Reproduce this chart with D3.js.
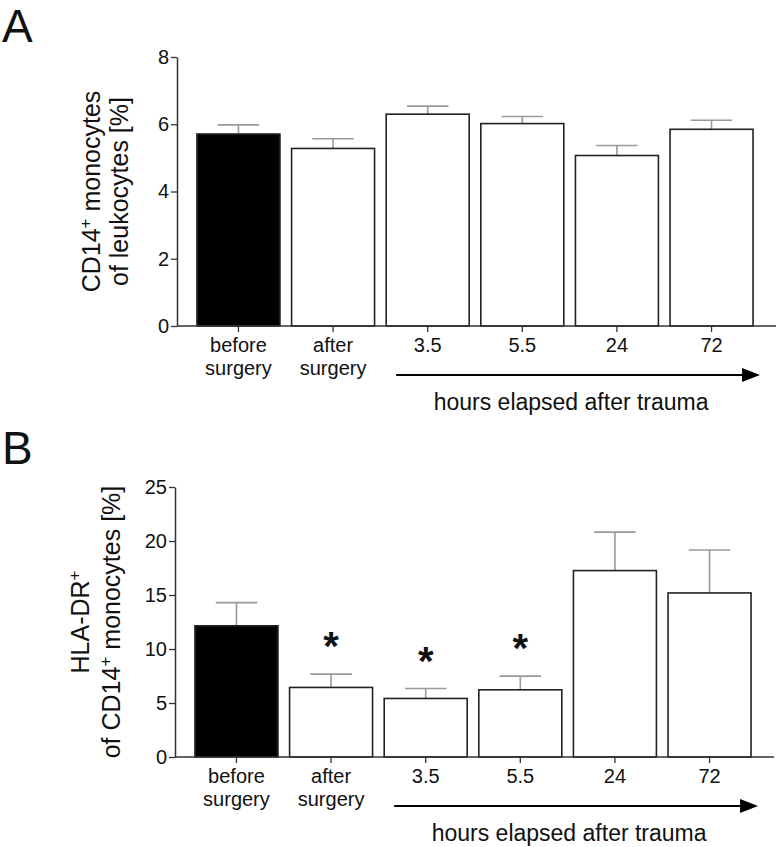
<!DOCTYPE html>
<html>
<head>
<meta charset="utf-8">
<script src="https://cdn.jsdelivr.net/npm/d3@7"></script>
<style>
  body { margin: 0; background: #fff; }
  text { font-family: "Liberation Sans", Arial, Helvetica, sans-serif; fill: #111; }
</style>
</head>
<body>
<div id="wrapper"></div>
<script>
// categories shared by both panels
const categories = ["before surgery", "after surgery", "3.5", "5.5", "24", "72"]
const categoryLines = [["before", "surgery"], ["after", "surgery"], ["3.5"], ["5.5"], ["24"], ["72"]]

// panel A: CD14+ monocytes of leukocytes
const cd14Mean = [5.71, 5.28, 6.30, 6.02, 5.07, 5.85]
const cd14Sem = [0.27, 0.29, 0.24, 0.21, 0.30, 0.27]
const cd14Ticks = [0, 2, 4, 6, 8]

// panel B: HLA-DR+ of CD14+ monocytes
const hlaMean = [12.15, 6.44, 5.42, 6.22, 17.26, 15.19]
const hlaSem = [2.14, 1.23, 0.92, 1.27, 3.56, 3.98]
const hlaSignificant = [false, true, true, true, false, false]
const hlaTicks = [0, 5, 10, 15, 20, 25]

const arrowLabel = "hours elapsed after trauma"

const dimensions = { width: 776, height: 847 }

const svg = d3.select("#wrapper")
  .append("svg")
    .attr("width", dimensions.width)
    .attr("height", dimensions.height)

function drawPanel(cfg) {
  const yScale = d3.scaleLinear()
    .domain([0, d3.max(cfg.ticks)])
    .range([cfg.bottom, cfg.top])

  const xScale = d3.scaleBand()
    .domain(categories)
    .range([cfg.left, cfg.left + 596])
    .paddingInner(0.123)
    .paddingOuter(0.211)

  const rows = categories.map((c, i) => ({
    cat: c,
    mean: cfg.mean[i],
    top: cfg.mean[i] + cfg.sem[i],
    sig: cfg.significant ? cfg.significant[i] : false,
    first: i === 0
  }))
  const cx = d => xScale(d.cat) + xScale.bandwidth() / 2

  const g = svg.append("g")

  // panel letter
  g.append("text")
    .attr("x", 2)
    .attr("y", cfg.letterY)
    .attr("font-size", 46)
    .text(cfg.letter)

  // error bars (upper only, grey)
  const errs = g.append("g")
    .attr("stroke", "#9a9a9a")
    .attr("stroke-width", 1.6)
  errs.selectAll(".stem")
    .data(rows)
    .join("line")
      .attr("class", "stem")
      .attr("x1", cx).attr("x2", cx)
      .attr("y1", d => yScale(d.mean)).attr("y2", d => yScale(d.top))
  errs.selectAll(".cap")
    .data(rows)
    .join("line")
      .attr("class", "cap")
      .attr("x1", d => cx(d) - xScale.bandwidth() * 0.25)
      .attr("x2", d => cx(d) + xScale.bandwidth() * 0.25)
      .attr("y1", d => yScale(d.top)).attr("y2", d => yScale(d.top))

  // bars
  g.append("g")
    .selectAll("rect")
    .data(rows)
    .join("rect")
      .attr("x", d => xScale(d.cat))
      .attr("width", xScale.bandwidth())
      .attr("y", d => yScale(d.mean))
      .attr("height", d => yScale(0) - yScale(d.mean))
      .attr("fill", d => d.first ? "#000" : "#fff")
      .attr("stroke", "#222")
      .attr("stroke-width", 1.6)

  // significance stars
  g.append("g")
    .selectAll("text")
    .data(rows.filter(d => d.sig))
    .join("text")
      .attr("x", cx)
      .attr("y", d => yScale(d.top) - 14)
      .attr("text-anchor", "middle")
      .attr("font-size", 40)
      .attr("font-weight", "bold")
      .text("*")

  // y axis
  const yAxis = g.append("g")
    .attr("transform", `translate(${cfg.left},0)`)
    .call(d3.axisLeft(yScale).tickValues(cfg.ticks).tickSize(6).tickSizeOuter(0).tickPadding(2))
  yAxis.selectAll("text").attr("font-size", 20).style("font-family", null)
  yAxis.select(".domain").attr("stroke", "#333").attr("stroke-width", 1.5)
  yAxis.selectAll(".tick line").attr("stroke", "#333").attr("stroke-width", 1.3)

  // x axis
  const xAxis = g.append("g")
    .attr("transform", `translate(0,${cfg.bottom})`)
    .call(d3.axisBottom(xScale).tickSize(6).tickSizeOuter(0).tickFormat(""))
  xAxis.select(".domain").attr("stroke", "#333").attr("stroke-width", 1.5)
    .attr("d", `M${cfg.left},0H${cfg.left + 599}`)
  xAxis.selectAll(".tick line").attr("stroke", "#333").attr("stroke-width", 1.3)

  // category labels
  const labels = g.append("g")
    .selectAll("text")
    .data(categories)
    .join("text")
      .attr("x", d => xScale(d) + xScale.bandwidth() / 2)
      .attr("y", cfg.bottom + 26)
      .attr("text-anchor", "middle")
      .attr("font-size", 20)
  labels.each(function (d, i) {
    const t = d3.select(this)
    categoryLines[i].forEach((line, j) => {
      t.append("tspan")
        .attr("x", xScale(d) + xScale.bandwidth() / 2)
        .attr("dy", j === 0 ? 0 : 23)
        .text(line)
    })
  })

  // time arrow
  const arrowY = cfg.bottom + 49
  const x0 = xScale("3.5") + 10
  const x1 = xScale("72") + xScale.bandwidth() + 7
  g.append("line")
    .attr("x1", x0).attr("x2", x1 - 16)
    .attr("y1", arrowY).attr("y2", arrowY)
    .attr("stroke", "#000")
    .attr("stroke-width", 2)
  g.append("path")
    .attr("d", `M${x1},${arrowY}L${x1 - 18},${arrowY - 7}L${x1 - 18},${arrowY + 7}Z`)
    .attr("fill", "#000")
  g.append("text")
    .attr("x", (x0 + x1) / 2 - 7)
    .attr("y", cfg.bottom + 84)
    .attr("text-anchor", "middle")
    .attr("font-size", 23)
    .text(arrowLabel)

  // y title, two rotated lines
  const midY = (cfg.top + cfg.bottom) / 2
  cfg.title.forEach((parts, j) => {
    const t = g.append("text")
      .attr("transform", `translate(${cfg.titleX[j]},${midY}) rotate(-90)`)
      .attr("text-anchor", "middle")
      .attr("font-size", 25)
    parts.forEach(p => {
      const s = t.append("tspan").text(p.t)
      if (p.sup) s.attr("baseline-shift", "super").attr("font-size", 17)
    })
  })
}

drawPanel({
  letter: "A", letterY: 42,
  left: 177, top: 57, bottom: 326,
  mean: cd14Mean, sem: cd14Sem, ticks: cd14Ticks,
  titleX: [100, 128],
  title: [
    [{ t: "CD14" }, { t: "+", sup: true }, { t: " monocytes" }],
    [{ t: "of  leukocytes [%]" }]
  ]
})

drawPanel({
  letter: "B", letterY: 464,
  left: 175, top: 487, bottom: 757,
  mean: hlaMean, sem: hlaSem, ticks: hlaTicks, significant: hlaSignificant,
  titleX: [89, 120],
  title: [
    [{ t: "HLA-DR" }, { t: "+", sup: true }],
    [{ t: "of CD14" }, { t: "+", sup: true }, { t: " monocytes [%]" }]
  ]
})
</script>
</body>
</html>
